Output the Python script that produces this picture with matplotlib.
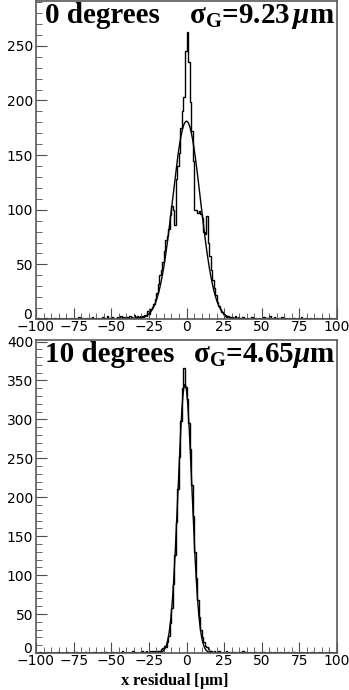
import numpy as np
import matplotlib
matplotlib.use("Agg")
import matplotlib.pyplot as plt
from matplotlib.ticker import MultipleLocator, FuncFormatter

plt.rcParams['mathtext.fontset'] = 'custom'
plt.rcParams['mathtext.rm'] = 'Liberation Serif:bold'
plt.rcParams['mathtext.it'] = 'Liberation Serif:bold:italic'
plt.rcParams['mathtext.bf'] = 'Liberation Serif:bold'

# bin edges: 1 um bins from -100 to 100
edges = np.arange(-100, 101, 1)

# --- 0 degrees: counts per bin ---
top_left_tail = [0, 1, 0, 0, 0, 0, 1, 0, 0, 0,
                 0, 0, 1, 0, 0, 1, 0, 0, 0, 1,
                 0, 0, 0, 1, 0, 1, 0, 0, 2, 0,
                 1, 0, 0, 1, 0, 0, 1, 2, 0, 1,
                 0, 1, 0, 0, 2, 1, 0, 3, 1, 0,
                 2, 1, 0, 1, 2, 0, 3, 1, 2, 1,
                 2, 1, 3, 2, 1, 4, 2, 3, 2, 3]          # -100 .. -31
top_core = [3, 2, 4, 3, 7, 5, 9, 11, 14, 18,
            24, 32, 40, 45, 52, 62, 72, 76, 82, 95,
            103, 100, 86, 128, 140, 152, 175, 190, 203, 245,
            263, 235, 199, 172, 145, 100, 100, 97, 99, 96,
            92, 80, 78, 94, 70, 58, 45, 36, 28, 22,
            16, 12, 9, 6, 5, 3, 2, 3, 1, 2]             # -30 .. 29
top_right_tail = [2, 1, 3, 1, 2, 1, 0, 2, 1, 0,
                  1, 0, 1, 2, 0, 1, 0, 0, 1, 0,
                  1, 2, 0, 1, 1, 3, 1, 0, 2, 1,
                  0, 1, 0, 2, 1, 1, 0, 0, 1, 0,
                  0, 1, 0, 0, 1, 0, 2, 0, 0, 1,
                  0, 0, 1, 0, 0, 0, 1, 0, 0, 0,
                  1, 0, 0, 0, 0, 1, 0, 0, 0, 0]     # 30 .. 99

# --- 10 degrees ---
bot_left_tail = [0, 0, 1, 0, 0, 0, 0, 1, 0, 0,
                 0, 0, 0, 0, 1, 0, 0, 0, 0, 0,
                 1, 0, 0, 0, 0, 0, 1, 0, 0, 0,
                 0, 0, 1, 0, 0, 0, 0, 0, 1, 0,
                 0, 0, 0, 1, 0, 0, 1, 0, 0, 0,
                 1, 0, 0, 1, 0, 0, 0, 2, 0, 1,
                 0, 1, 0, 0, 2, 1, 0, 1, 0, 1,
                 2, 0, 1, 2, 1, 0, 3, 1, 2, 1]          # -100 .. -21
bot_core = [2, 3, 2, 5, 7, 9, 8, 14, 22, 38,
            58, 88, 126, 168, 210, 252, 298, 340, 366, 342,
            326, 296, 262, 216, 176, 130, 96, 68, 46, 30,
            20, 14, 9, 8, 5, 2, 3, 1, 2, 1]             # -20 .. 19
bot_right_tail = [1, 2, 1, 0, 1, 0, 2, 1, 0, 1,
                  0, 1, 0, 0, 1, 1, 0, 2, 0, 1,
                  0, 0, 1, 0, 0, 1, 0, 0, 1, 0,
                  0, 1, 0, 0, 0, 1, 0, 0, 1, 0,
                  0, 0, 1, 0, 0, 0, 0, 1, 0, 0,
                  0, 1, 0, 0, 0, 0, 1, 0, 0, 0,
                  0, 0, 0, 1, 0, 0, 0, 0, 1, 0,
                  0, 0, 0, 0, 1, 0, 0, 0, 0, 0]     # 20 .. 99

top_counts = np.array(top_left_tail + top_core + top_right_tail)
bot_counts = np.array(bot_left_tail + bot_core + bot_right_tail)

# gaussian fit parameters (amplitude, mean, sigma)
top_fit = (181.0, 0.0, 9.23)
bot_fit = (345.0, -1.0, 4.65)

top_angle = '0 degrees'
bot_angle = '10 degrees'
top_sigma = r'$\mathrm{\sigma_{G}}$=9.23$\,\mu$m'
bot_sigma = r'$\mathrm{\sigma_{G}}$=4.65$\mu$m'

W, H = 349, 690
fig = plt.figure(figsize=(W / 100, H / 100), dpi=100)

def sans_zero(v, pos):
    return '' if abs(v) < 1e-9 else '%d' % v

def panneau(rect, counts, fit, ymax, angle, sigma):
    ax = fig.add_axes(rect)
    ax.stairs(counts, edges, color='black', lw=1.0)
    xx = np.linspace(-100, 100, 2001)
    amp, mu, sig = fit
    ax.plot(xx, amp * np.exp(-0.5 * ((xx - mu) / sig) ** 2), color='black', lw=1.0)
    ax.set_xlim(-100, 100)
    ax.set_ylim(0, ymax)
    ax.xaxis.set_major_locator(MultipleLocator(25))
    ax.xaxis.set_minor_locator(MultipleLocator(5))
    ax.yaxis.set_major_locator(MultipleLocator(50))
    ax.yaxis.set_minor_locator(MultipleLocator(10))
    ax.yaxis.set_major_formatter(FuncFormatter(sans_zero))
    ax.tick_params(which='both', direction='in', top=False, right=False,
                   labelsize=10, color='0.3', pad=2)
    ax.tick_params(axis='x', pad=1)
    ax.tick_params(which='major', length=8)
    ax.tick_params(which='minor', length=4)
    for s in ax.spines.values():
        s.set_color('0.35')
        s.set_linewidth(1.2)
    # le "0" de l'axe y, un peu plus haut comme dans ROOT
    ax.annotate('0', xy=(0, 0), xycoords=('axes fraction', 'data'),
                xytext=(-3, 3), textcoords='offset points',
                ha='right', va='center', fontsize=10)
    ax.text(0.03, 0.997, angle, transform=ax.transAxes, ha='left', va='top',
            fontsize=21, family='Liberation Serif', fontweight='bold')
    ax.text(0.993, 0.997, sigma, transform=ax.transAxes, ha='right', va='top',
            fontsize=21, family='Liberation Serif', fontweight='bold')
    return ax

x0 = 36 / W
larg = 301 / W
ax1 = panneau([x0, 1 - 319 / H, larg, 318 / H], top_counts, top_fit, 291,
              top_angle, top_sigma)
ax2 = panneau([x0, 1 - 653 / H, larg, 313 / H], bot_counts, bot_fit, 402,
              bot_angle, bot_sigma)

fig.text(174 / W, 1 - 685 / H, r'x residual [$\mathrm{\mu}$m]', ha='center', va='baseline',
         fontsize=12, family='Liberation Serif', fontweight='bold')

fig.savefig('out.png', dpi=100)
